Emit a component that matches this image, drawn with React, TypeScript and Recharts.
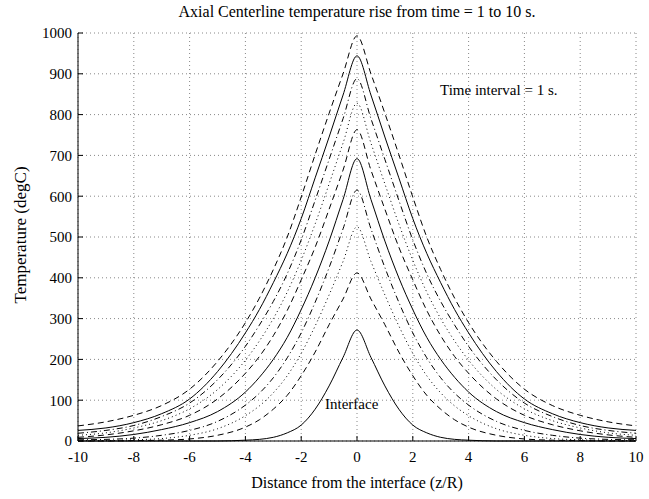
import React from 'react';
import { LineChart, Line, XAxis, YAxis, CartesianGrid } from 'recharts';

// distance from the interface (z/R), one side only – the profiles are symmetric
const distances = [0, 0.5, 1, 1.5, 2, 2.5, 3, 3.5, 4, 5, 6, 7, 8, 9, 10];

// temperature (degC) at each distance, time = 1 s ... 10 s
const t1 = [272, 205, 135, 78, 39, 20, 9, 4, 2, 0, 0, 0, 0, 0, 0];
const t2 = [412, 348, 285, 218, 160, 112, 78, 52, 34, 14, 5, 2, 1, 0, 0];
const t3 = [525, 440, 358, 282, 215, 160, 118, 86, 62, 30, 14, 6, 3, 1, 1];
const t4 = [615, 520, 425, 340, 265, 204, 155, 117, 88, 48, 26, 14, 7, 4, 3];
const t5 = [692, 592, 490, 400, 322, 254, 200, 156, 120, 72, 45, 28, 16, 9, 6];
const t6 = [763, 664, 568, 475, 395, 320, 258, 207, 166, 103, 63, 40, 25, 15, 9];
const t7 = [828, 730, 630, 532, 443, 365, 300, 245, 198, 126, 79, 50, 32, 20, 14];
const t8 = [888, 790, 690, 590, 493, 410, 342, 284, 232, 150, 93, 60, 38, 26, 19];
const t9 = [944, 848, 745, 645, 545, 460, 388, 322, 265, 170, 103, 67, 45, 32, 26];
const t10 = [993, 900, 803, 702, 598, 500, 420, 350, 290, 195, 127, 87, 63, 47, 37];

const xTicks = [-10, -8, -6, -4, -2, 0, 2, 4, 6, 8, 10];
const yTicks = [0, 100, 200, 300, 400, 500, 600, 700, 800, 900, 1000];

const profiles = [t1, t2, t3, t4, t5, t6, t7, t8, t9, t10];
// matlab line style order: solid, dashed, dotted, dash-dot
const dashes = [undefined, '6 4', '1 3', '6 3 1 3'];

// mirror the half profiles onto the negative side
const rows = [
    ...distances.slice(1).map((d, i) => ({ d: -d, i: i + 1 })).reverse(),
    ...distances.map((d, i) => ({ d, i })),
].map(({ d, i }) => {
    const row: Record<string, number> = { x: d };
    profiles.forEach((p, k) => {
        row[`t${k + 1}`] = p[i];
    });
    return row;
});

const serif = 'Liberation Serif, Times New Roman, serif';
const tickFont = { fontSize: 15, fill: '#000', fontFamily: serif };

export default function App() {
    return (
        <div
            style={{
                position: 'fixed',
                left: 0,
                top: 0,
                width: 649,
                height: 499,
                background: '#fff',
                fontFamily: serif,
                color: '#000',
            }}
        >
            <LineChart
                width={649}
                height={499}
                data={rows}
                margin={{ top: 33, right: 13, bottom: 28, left: 0 }}
            >
                <CartesianGrid stroke="#888" strokeDasharray="1 3" />
                <XAxis
                    dataKey="x"
                    type="number"
                    domain={[-10, 10]}
                    ticks={xTicks}
                    height={30}
                    stroke="#000"
                    tickSize={-5}
                    tickMargin={15}
                    tick={tickFont}
                    interval={0}
                />
                <XAxis
                    xAxisId="top"
                    orientation="top"
                    dataKey="x"
                    type="number"
                    domain={[-10, 10]}
                    ticks={xTicks}
                    height={0}
                    stroke="#000"
                    tickSize={-5}
                    tickFormatter={() => ''}
                    interval={0}
                />
                <YAxis
                    type="number"
                    domain={[0, 1000]}
                    ticks={yTicks}
                    width={78}
                    stroke="#000"
                    tickSize={-5}
                    tickMargin={11}
                    tick={tickFont}
                    interval={0}
                />
                <YAxis
                    yAxisId="right"
                    orientation="right"
                    type="number"
                    domain={[0, 1000]}
                    ticks={yTicks}
                    width={0}
                    stroke="#000"
                    tickSize={-5}
                    tickFormatter={() => ''}
                    interval={0}
                />
                {profiles.map((_, k) => (
                    <Line
                        key={k}
                        dataKey={`t${k + 1}`}
                        type="monotone"
                        stroke="#000"
                        strokeWidth={1}
                        strokeDasharray={dashes[k % 4]}
                        dot={false}
                        activeDot={false}
                        isAnimationActive={false}
                    />
                ))}
            </LineChart>

            <div style={{ position: 'absolute', left: 78, width: 558, top: 3, textAlign: 'center', fontSize: 16 }}>
                Axial Centerline temperature rise from time = 1 to 10 s.
            </div>
            <div style={{ position: 'absolute', left: 78, width: 558, top: 474, textAlign: 'center', fontSize: 16 }}>
                Distance from the interface (z/R)
            </div>
            <div
                style={{
                    position: 'absolute',
                    left: 21,
                    top: 235,
                    fontSize: 17,
                    whiteSpace: 'nowrap',
                    transform: 'translate(-50%, -50%) rotate(-90deg)',
                }}
            >
                Temperature (degC)
            </div>
            <div style={{ position: 'absolute', left: 440, top: 82, fontSize: 15, whiteSpace: 'nowrap' }}>
                Time interval = 1 s.
            </div>
            <div style={{ position: 'absolute', left: 325, top: 396, fontSize: 15, whiteSpace: 'nowrap' }}>
                Interface
            </div>
        </div>
    );
}
